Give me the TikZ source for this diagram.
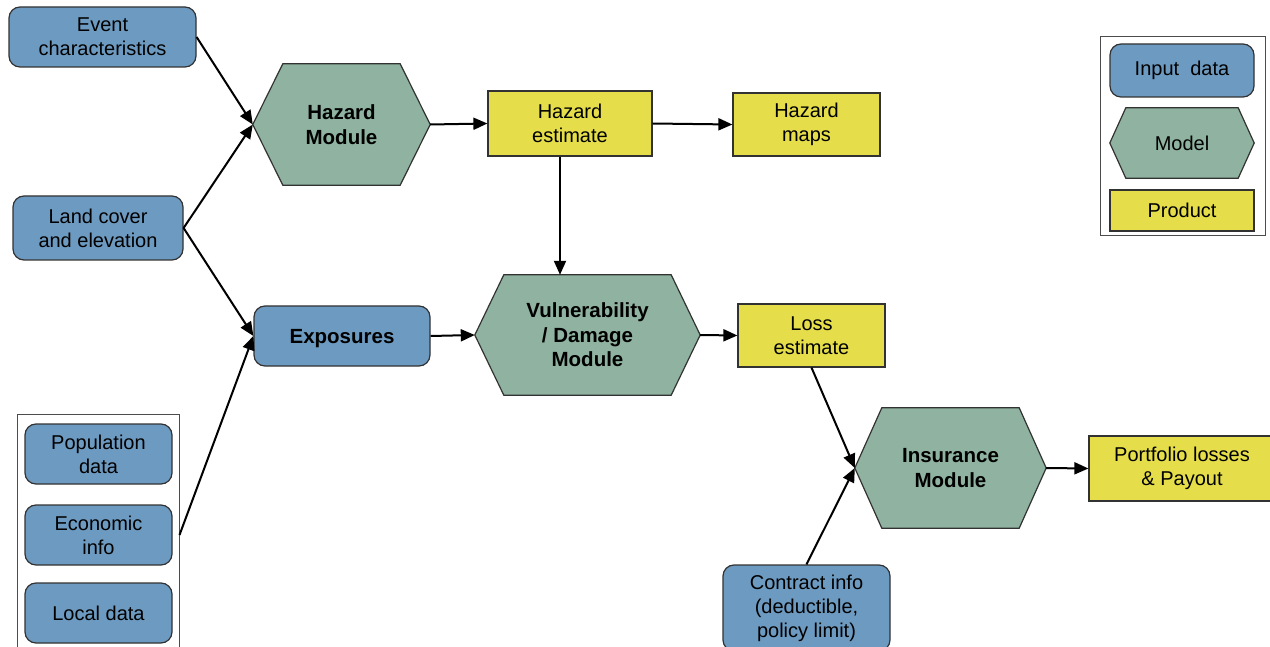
\documentclass[tikz,border=0pt]{standalone}
\usepackage{fontspec}
\setmainfont{Liberation Sans}
\usetikzlibrary{arrows.meta,backgrounds,calc}
\definecolor{inblue}{RGB}{109,154,192}
\definecolor{modgreen}{RGB}{143,179,160}
\definecolor{prodyellow}{RGB}{229,222,74}
\definecolor{edgegray}{RGB}{50,50,50}
\newcommand\hexa[2]{\path[hexline] (#1.west) -- ([xshift=#2]#1.north west) -- ([xshift=-#2]#1.north east) -- (#1.east) -- ([xshift=-#2]#1.south east) -- ([xshift=#2]#1.south west) -- cycle;}
\begin{document}
\begin{tikzpicture}[x=1pt,y=-1pt,
  txt/.style={font=\fontsize{20}{24}\selectfont, align=center, text=black, inner sep=0pt},
  inbox/.style={txt, draw=edgegray, line width=1.2pt, fill=inblue, rounded corners=11pt},
  prodbox/.style={txt, draw=edgegray, line width=1.2pt, fill=prodyellow},
  hexbox/.style={txt},
  boldtxt/.style={font=\fontsize{20.5}{24.5}\selectfont\bfseries},
  oneline/.style={text depth=0pt},
  hexline/.style={draw=edgegray, line width=1.2pt, fill=modgreen},
  framebox/.style={draw=black!70, line width=1pt, inner sep=0pt},
  flow/.style={line width=2pt, -{Triangle[length=14pt,width=12pt]}},
]
\clip (0,0) rectangle (1270,647);

% inputs
\node[inbox, minimum width=187pt, minimum height=60pt] (event) at (102.5,37) {Event\\characteristics};
\node[inbox, minimum width=170pt, minimum height=64pt] (land) at (98,228) {Land cover\\and elevation};
\node[framebox, minimum width=162pt, minimum height=241pt] (container) at (98,534.5) {};
\node[inbox, minimum width=147pt, minimum height=60pt] (pop) at (98.5,454) {Population\\data};
\node[inbox, minimum width=147pt, minimum height=60pt] (econ) at (98.5,535) {Economic\\info};
\node[inbox, oneline, minimum width=147pt, minimum height=60pt] (local) at (98.5,613) {Local data};
\node[inbox, boldtxt, oneline, minimum width=176pt, minimum height=60pt] (expo) at (342,336) {Exposures};
\node[inbox, minimum width=167pt, minimum height=86pt] (contract) at (806.5,608) {Contract info\\(deductible,\\policy limit)};

% models
\node[hexbox, boldtxt, minimum width=177pt, minimum height=121pt] (hazard) at (341.5,124.5) {Hazard\\Module};
\node[hexbox, boldtxt, minimum width=225pt, minimum height=120pt] (vul) at (587.5,335) {Vulnerability\\/ Damage\\Module};
\node[hexbox, boldtxt, minimum width=191pt, minimum height=120pt] (ins) at (950.5,468) {Insurance\\Module};

% products
\node[prodbox, minimum width=164pt, minimum height=65pt] (hest) at (570,123.5) {Hazard\\estimate};
\node[prodbox, minimum width=147pt, minimum height=63pt] (hmaps) at (806.5,124.5) {Hazard\\maps};
\node[prodbox, minimum width=147pt, minimum height=63pt] (loss) at (811.5,335.5) {Loss\\estimate};
\node[prodbox, minimum width=186pt, minimum height=65pt] (port) at (1182,468.5) {Portfolio losses\\\& Payout};

% legend
\node[framebox, minimum width=165pt, minimum height=199pt] (legend) at (1182.5,136.5) {};
\node[inbox, minimum width=144pt, minimum height=53pt] (linput) at (1182,70.5) {Input\ \ data};
\node[hexbox, oneline, minimum width=144pt, minimum height=70pt] (lmodel) at (1182,143) {Model};
\node[prodbox, minimum width=144pt, minimum height=41pt] (lprod) at (1182,210.5) {Product};

\begin{scope}[on background layer]
\hexa{hazard}{30pt}
\hexa{vul}{29pt}
\hexa{ins}{27pt}
\hexa{lmodel}{16pt}
\end{scope}

% connectors
\draw[flow] (event.east) -- (hazard.west);
\draw[flow] (land.east) -- (hazard.west);
\draw[flow] (land.east) -- (expo.west);
\coordinate (econout) at (container.east |- econ.east);
\draw[flow] (econout) -- (expo.west);
\draw[flow] (hazard.east) -- (hest.west);
\draw[flow] (hest.east) -- (hmaps.west);
\coordinate (hs) at ([xshift=-10pt]hest.south);
\draw[flow] (hs) -- (hs |- vul.north);
\draw[flow] (expo.east) -- (vul.west);
\draw[flow] (vul.east) -- (loss.west);
\draw[flow] (loss.south) -- (ins.west);
\draw[flow] (contract.north) -- (ins.west);
\draw[flow] (ins.east) -- (port.west);
\end{tikzpicture}
\end{document}
